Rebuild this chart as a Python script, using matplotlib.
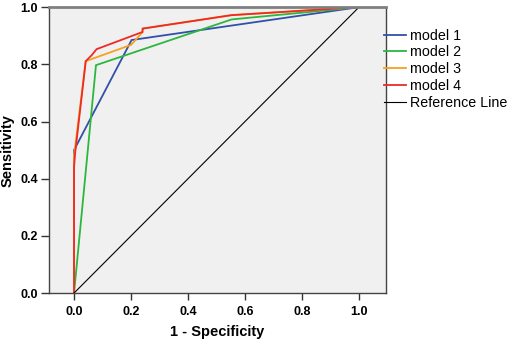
import matplotlib
matplotlib.use("Agg")
import matplotlib.pyplot as plt

plt.rcParams['font.family'] = ['Liberation Sans', 'DejaVu Sans']

# ROC curve data (1 - Specificity, Sensitivity)
m1_x = [0.0, 0.0, 0.202, 1.0]
m1_y = [0.0, 0.50, 0.885, 1.0]

m2_x = [0.0, 0.077, 0.553, 1.0]
m2_y = [0.0, 0.797, 0.957, 1.0]

m3_x = [0.0, 0.0, 0.041, 0.200, 0.240, 0.241, 0.553, 1.0]
m3_y = [0.0, 0.48, 0.811, 0.868, 0.912, 0.925, 0.972, 1.0]

m4_x = [0.0, 0.0, 0.004, 0.041, 0.062, 0.079, 0.240, 0.241, 0.553, 1.0]
m4_y = [0.0, 0.44, 0.49, 0.811, 0.832, 0.853, 0.913, 0.925, 0.972, 1.0]

ref_x = [0.0, 1.0]
ref_y = [0.0, 1.0]

labels = ["model 1", "model 2", "model 3", "model 4", "Reference Line"]
colors = ["#3150a8", "#2cb63e", "#f7a11d", "#ee2a24", "#000000"]
xticks = [0.0, 0.2, 0.4, 0.6, 0.8, 1.0]
yticks = [0.0, 0.2, 0.4, 0.6, 0.8, 1.0]

fig = plt.figure(figsize=(5.1, 3.4), dpi=100)
ax = fig.add_axes([0.096, 0.138, 0.661, 0.841])
ax.set_facecolor("#f0f0f0")

series = [(m1_x, m1_y), (m2_x, m2_y), (m3_x, m3_y), (m4_x, m4_y), (ref_x, ref_y)]
for (xs, ys), lab, c in zip(series, labels, colors):
    lw = 0.8 if lab == "Reference Line" else 1.3
    ax.plot(xs, ys, color=c, lw=lw, label=lab, solid_joinstyle='miter')

ax.set_xlim(-0.088, 1.095)
ax.set_ylim(0.0, 1.0)
ax.set_xticks(xticks)
ax.set_yticks(yticks)
ax.set_xticklabels([f"{v:.1f}" for v in xticks], fontsize=9, fontweight='bold')
ax.set_yticklabels([f"{v:.1f}" for v in yticks], fontsize=9, fontweight='bold')
ax.tick_params(axis='x', direction='out', length=5, width=1, pad=4, color='#333333')
ax.tick_params(axis='y', direction='out', length=6, width=1, pad=2, color='#333333')

for side in ['left', 'bottom', 'right']:
    ax.spines[side].set_color('#444444')
    ax.spines[side].set_linewidth(1)
ax.spines['top'].set_color('#808080')
ax.spines['top'].set_linewidth(2)

ax.set_xlabel("1 - Specificity", fontsize=10.5, fontweight='bold', labelpad=5)
ax.set_ylabel("Sensitivity", fontsize=10.5, fontweight='bold', labelpad=4)

leg = ax.legend(loc='upper left', bbox_to_anchor=(0.995, 0.925), frameon=False,
                fontsize=10.3, handlelength=1.5, handletextpad=0.3,
                labelspacing=0.2, borderaxespad=0, borderpad=0)

fig.savefig("out.png", dpi=100)
